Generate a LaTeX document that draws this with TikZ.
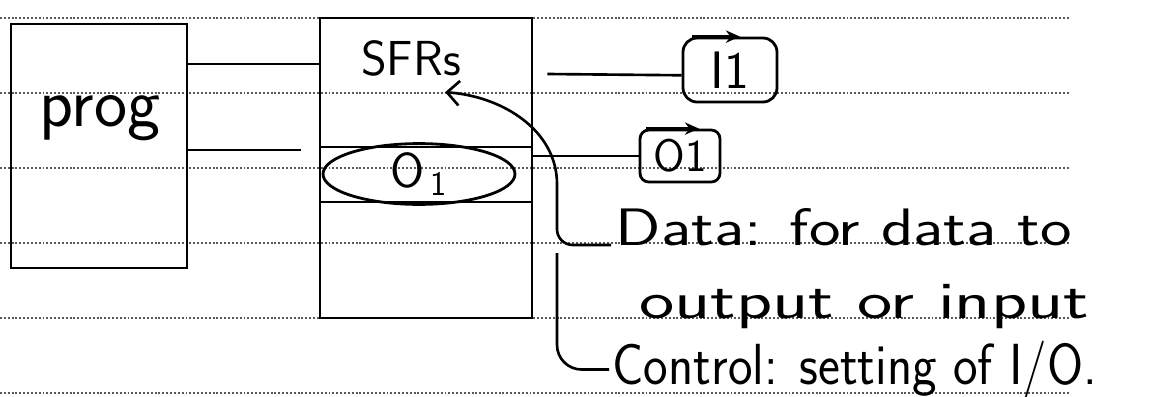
\documentclass[tikz,border=0pt]{standalone}
\usepackage{fontspec}
\usetikzlibrary{arrows.meta,calc,positioning,shapes.geometric}
\tikzset{
  memblk/.style={draw, line width=1.6pt, inner sep=0pt},
  regoval/.style={ellipse, draw, line width=1.6pt, inner sep=0pt, font=\sffamily\fontsize{28}{32}\selectfont},
  pinbox/.style={draw, line width=1.6pt, rounded corners=8pt, inner sep=0pt},
  wire/.style={line width=1.5pt},
  pinarr/.style={-{Stealth[length=8pt,width=7pt]}, line width=1.5pt},
  ptrarr/.style={-{Straight Barb[length=7pt,width=14pt]}, line width=1.5pt},
  hand/.style={font=\sffamily\fontsize{30}{36}\selectfont, inner sep=2pt, anchor=base west, transform shape},
  ruling/.style={black!65, line width=1.2pt, dash pattern=on 1.1pt off 1.1pt},
}

\begin{document}
\begin{tikzpicture}[x=0.02cm, y=-0.02cm]
\useasboundingbox (0,0) rectangle (1158,396);
% ruled paper
\foreach \ry in {18,93,168,243,318,393}
  \draw[ruling] (0,\ry) -- (1070,\ry);

% program memory and SFR block
\node[memblk, minimum width=3.52cm, minimum height=4.88cm] (prog) at (99,146) {};
\node[font=\sffamily\fontsize{40}{48}\selectfont] (progtxt) at (100,118) {prog};
\node[memblk, minimum width=4.24cm, minimum height=6cm] (sfr) at (426,168) {};
\node[font=\sffamily\fontsize{28}{32}\selectfont, inner sep=0pt] (sfrs) at (411,58) {SFRs};
\node[memblk, minimum width=4.24cm, minimum height=1.1cm] (o1row) at (426,174.5) {};
\node[regoval, minimum width=3.84cm, minimum height=1.06cm] (o1reg) at (419,174) {O\textsubscript{\,1}};

% pins
\node[pinbox, minimum width=1.88cm, minimum height=1.28cm, font=\sffamily\fontsize{30}{36}\selectfont] (i1pin) at (730,70) {I1};
\node[pinbox, rounded corners=5pt, minimum width=1.6cm, minimum height=1.04cm, font=\sffamily\fontsize{26}{30}\selectfont] (o1pin) at (680,156) {O1};

% buses
\coordinate (busA) at (0,64);
\coordinate (busB) at (0,150);
\draw[wire] (prog.east |- busA) -- (sfr.west |- busA);
\draw[wire] (prog.east |- busB) -- ($(sfr.west |- busB)+(-18,0)$);
\draw[wire] ($(sfr.east |- i1pin.west)+(14,4)$) -- ([yshift=-3pt]i1pin.west);
\draw[wire] (sfr.east |- o1pin) -- (o1pin.west);

% pin arrows
\draw[pinarr] ([xshift=6pt]i1pin.north west) -- ([xshift=0.2cm]i1pin.north);
\draw[pinarr] ([xshift=4pt]o1pin.north west) -- ([xshift=0.38cm]o1pin.north);

% notes
\node[hand, xscale=1.27] (datatxt) at (611,245) {Data: for data to};
\node[hand, xscale=1.42] (outtxt) at (634,318) {output or input};
\node[hand, xscale=0.9, font=\sffamily\fontsize{33}{38}\selectfont] (ctltxt) at (609,384) {Control: setting of I/O.};

% pointers from the notes
\coordinate (dcorner) at (557,245);
\coordinate (ctop) at (557,253);
\draw[ptrarr, rounded corners=9pt] (datatxt.base west) -- (dcorner) -- ++(0,-45)
  .. controls +(0,-70) and +(57,4) .. ($(sfrs.south east)+(-16,16)$);
\draw[wire, rounded corners=14pt] (ctop) |- (ctltxt.west);
\end{tikzpicture}
\end{document}
